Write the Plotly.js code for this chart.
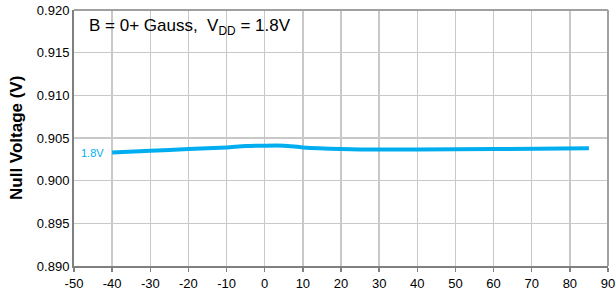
<!DOCTYPE html>
<html><head><meta charset="utf-8">
<script src="https://cdn.plot.ly/plotly-3.0.1.min.js"></script>
<style>body{margin:0;padding:0;background:#fff}#chart{width:616px;height:294px}</style>
</head><body><div id="chart"></div>
<script>
const temperature = [-40, -30, -20, -10, -5, 0, 5, 10, 20, 25, 40, 60, 85];
const nullVoltage18 = [0.9033, 0.9035, 0.9037, 0.9039, 0.90405, 0.9041, 0.9041, 0.9039, 0.9037, 0.90365, 0.90365, 0.9037, 0.9038];
const xTicks = [-50, -40, -30, -20, -10, 0, 10, 20, 30, 40, 50, 60, 70, 80, 90];
const yTicks = [0.890, 0.895, 0.900, 0.905, 0.910, 0.915, 0.920];
const seriesLabel = "1.8V";
const yTitle = "Null Voltage (V)";

const fontFam = "Liberation Sans, Arial, sans-serif";
const data = [{
  x: temperature, y: nullVoltage18, type: "scatter", mode: "lines",
  line: {color: "#00AEEF", width: 4, shape: "spline", smoothing: 0.6},
  hoverinfo: "skip"
}];
const layout = {
  width: 616, height: 294,
  margin: {l: 74, r: 8, t: 10, b: 28},
  paper_bgcolor: "#fff", plot_bgcolor: "#fff",
  showlegend: false,
  font: {family: fontFam, size: 13, color: "#000"},
  xaxis: {
    range: [-50, 90], tickvals: xTicks, ticktext: xTicks.map(String),
    showgrid: true, gridcolor: "#c8c8c8", gridwidth: 1.5,
    showline: true, linecolor: "#808080", linewidth: 2, mirror: false,
    ticks: "outside", ticklen: 4, tickcolor: "#808080", tickwidth: 1.5,
    zeroline: false, tickfont: {size: 13, family: fontFam}
  },
  yaxis: {
    range: [0.890, 0.920], tickvals: yTicks, ticktext: yTicks.map(v => v.toFixed(3)),
    showgrid: true, gridcolor: "#c8c8c8", gridwidth: 1.5,
    showline: true, linecolor: "#808080", linewidth: 2,
    ticks: "", zeroline: false, tickfont: {size: 13, family: fontFam}
  },
  shapes: [
    {type: "line", xref: "paper", yref: "paper", x0: 0, x1: 1, y0: 1, y1: 1, line: {color: "#a0a0a0", width: 2}},
    {type: "line", xref: "paper", yref: "paper", x0: 1, x1: 1, y0: 0, y1: 1, line: {color: "#a0a0a0", width: 2}}
  ],
  annotations: [
    {xref: "paper", yref: "paper", x: 0.024, y: 0.985, xanchor: "left", yanchor: "top",
     text: "B = 0+ Gauss,  V<sub>DD</sub> = 1.8V", showarrow: false,
     font: {size: 17, family: fontFam, color: "#000"}},
    {xref: "x", yref: "y", x: temperature[0], y: nullVoltage18[0], xanchor: "right", yanchor: "middle", xshift: -6,
     text: seriesLabel, showarrow: false, font: {size: 11, family: fontFam, color: "#00AEEF"}},
    {xref: "paper", yref: "paper", x: (16 - 74) / 534, y: 0.5, xanchor: "center", yanchor: "middle",
     textangle: -90, text: "<b>" + yTitle + "</b>", showarrow: false,
     font: {size: 17, family: fontFam, color: "#000"}}
  ]
};
Plotly.newPlot("chart", data, layout, {displayModeBar: false, staticPlot: true});
</script></body></html>
